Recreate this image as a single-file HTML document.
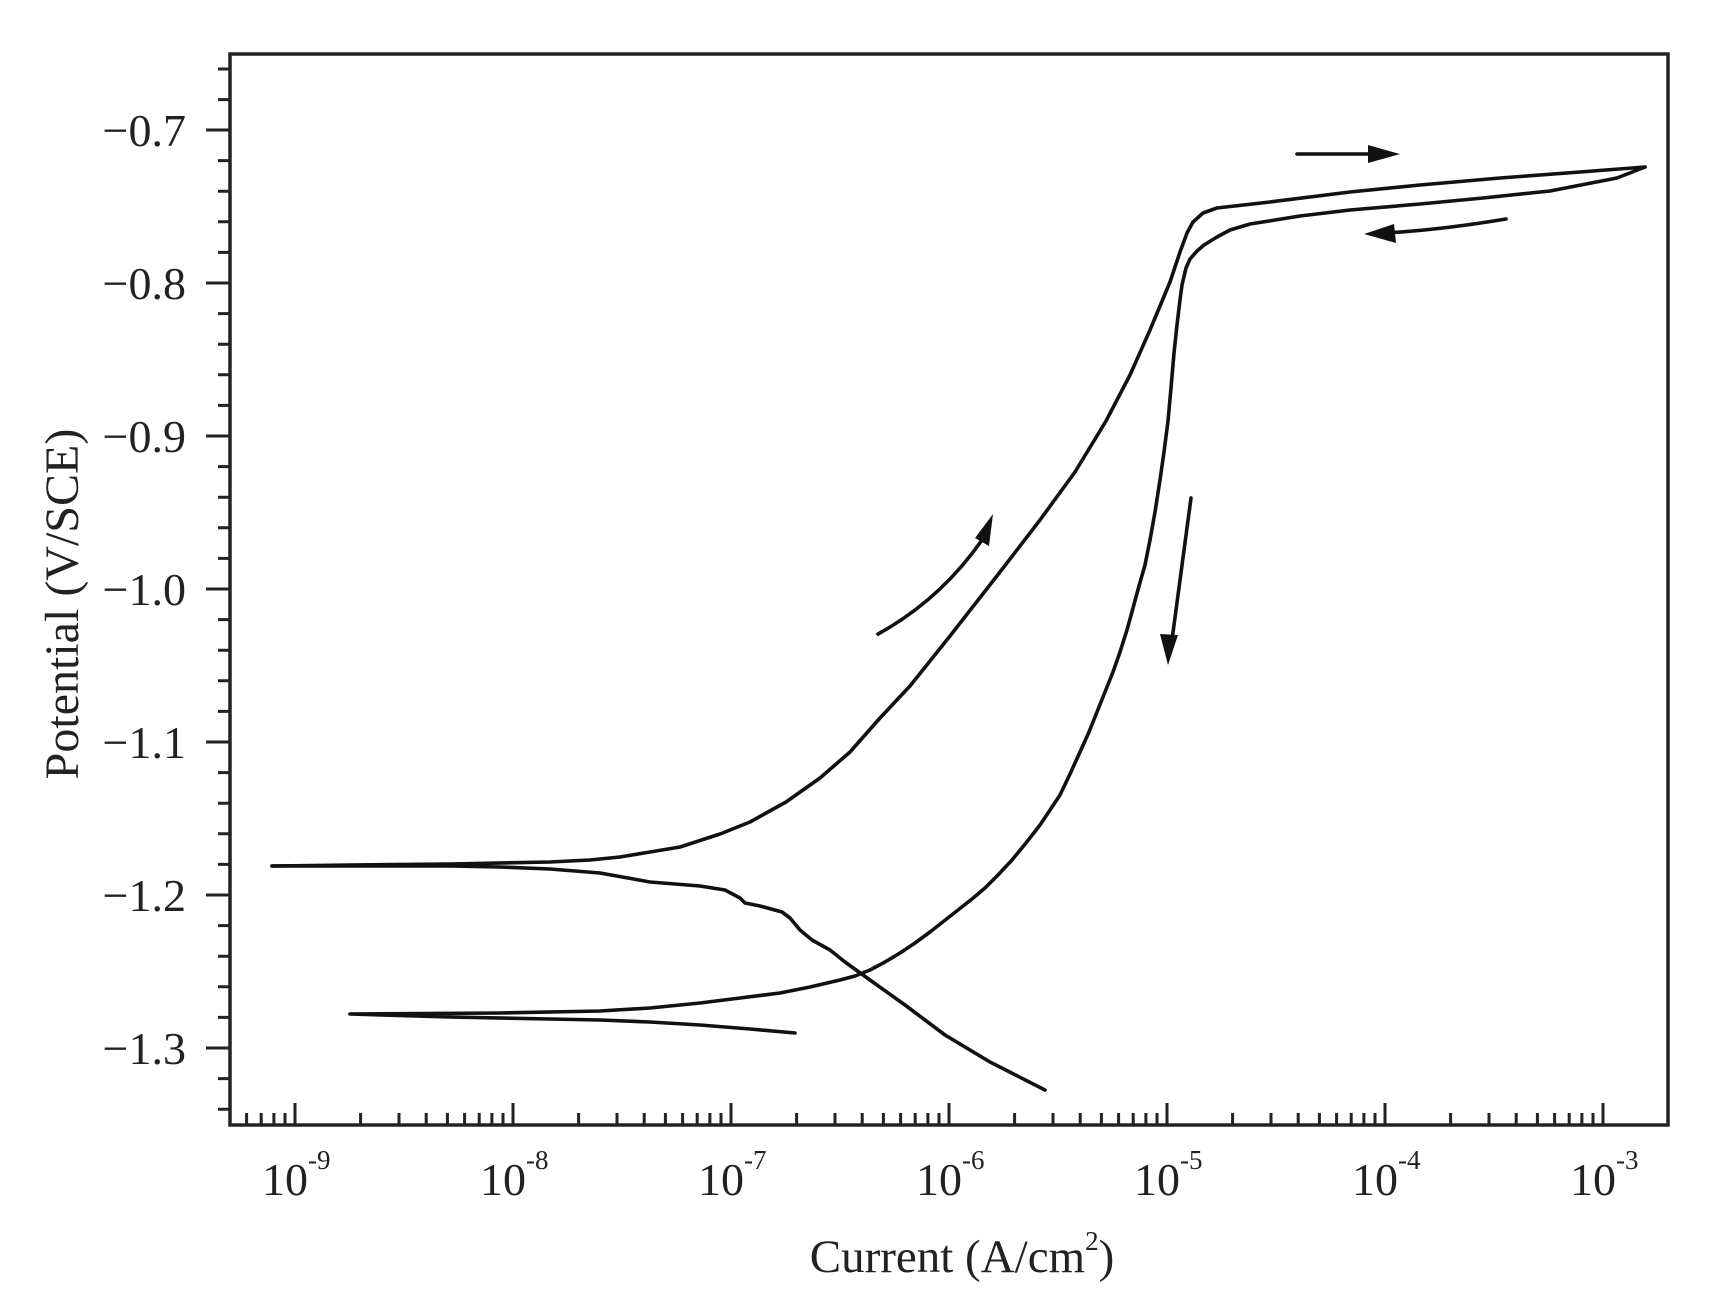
<!DOCTYPE html>
<html><head><meta charset="utf-8"><style>
html,body{margin:0;padding:0;background:#fff;}
svg{display:block;}
text{font-family:"Liberation Serif",serif;fill:#222;}
</style></head><body>
<svg width="1731" height="1314" viewBox="0 0 1731 1314" xmlns="http://www.w3.org/2000/svg">
<rect width="1731" height="1314" fill="#fff"/>
<rect x="230" y="54" width="1438" height="1071" fill="none" stroke="#222" stroke-width="3.5"/>
<g fill="none" stroke="#111" stroke-width="3.6" stroke-linejoin="round" stroke-linecap="round">
<polyline points="1045,1090 990,1062 945,1035 905,1005 870,980 845,962 830,950 812,940 800,930 790,918 782,912 760,906 745,903 740,898 725,890 700,886 650,882 600,873 550,869 500,867 450,866 350,866 272,866"/>
<polyline points="272,866 350,865 450,864 550,862 590,860 620,857 650,852 680,847 720,834 750,822 786,802 820,778 850,752 880,718 910,686 950,636 1000,572 1040,520 1075,472 1106,421 1130,375 1150,330 1170,282 1180,252 1187,233 1193,222 1203,213 1217,208 1270,202 1350,192 1420,185 1500,178 1580,172 1645,167"/>
<polyline points="1645,167 1617,178 1550,191 1483,198 1420,204 1350,210 1300,216 1250,224 1230,230 1217,237 1204,245 1197,251 1190,259 1186,268 1182,285 1180,300 1177,325 1174,353 1171,388 1168,421 1164,452 1160,480 1155,512 1150,540 1145,565 1139,586 1133,608 1127,630 1120,652 1113,672 1105,692 1097,712 1089,732 1080,752 1070,774 1060,795 1050,810 1040,825 1026,843 1012,860 998,875 985,888 972,899 958,910 944,921 930,932 915,943 900,953 885,962 870,970 855,976 840,980 810,987 780,993 740,998 700,1003 650,1008 600,1011 500,1013 350,1014 450,1017 550,1019 600,1020 650,1022 700,1025 750,1029 795,1033"/>
<line x1="1297" y1="154" x2="1375" y2="154"/>
<path d="M1506,219 Q1440,230 1385,233"/>
<path d="M878,634 Q940,600 982,540"/>
<line x1="1191" y1="498" x2="1172" y2="640"/>
</g>
<g fill="#111">
<polygon points="1400,154 1368,145 1368,163"/>
<polygon points="1364,234 1394,224 1396,243"/>
<polygon points="993,514 975,538 989,546"/>
<polygon points="1168,665 1160,634 1178,635"/>
</g>
<g stroke="#222" stroke-width="3" fill="none">
<path d="M206,130H230M206,283H230M206,436H230M206,589H230M206,742H230M206,895H230M206,1048H230"/>
<path d="M218,69H230M218,99.6H230M218,160.6H230M218,191.2H230M218,221.8H230M218,252.4H230M218,313.6H230M218,344.2H230M218,374.8H230M218,405.4H230M218,466.6H230M218,497.2H230M218,527.8H230M218,558.4H230M218,619.6H230M218,650.2H230M218,680.8H230M218,711.4H230M218,772.6H230M218,803.2H230M218,833.8H230M218,864.4H230M218,925.6H230M218,956.2H230M218,986.8H230M218,1017.4H230M218,1078.6H230M218,1109.2H230"/>
<path d="M295,1125V1103M513,1125V1103M731,1125V1103M949,1125V1103M1167,1125V1103M1385,1125V1103M1603,1125V1103"/>
<path d="M246.6,1125V1113M261.2,1125V1113M273.9,1125V1113M285,1125V1113
M360.6,1125V1113M399,1125V1113M426.2,1125V1113M447.4,1125V1113M464.6,1125V1113M479.2,1125V1113M491.9,1125V1113M503,1125V1113
M578.6,1125V1113M617,1125V1113M644.2,1125V1113M665.4,1125V1113M682.6,1125V1113M697.2,1125V1113M709.9,1125V1113M721,1125V1113
M796.6,1125V1113M835,1125V1113M862.2,1125V1113M883.4,1125V1113M900.6,1125V1113M915.2,1125V1113M927.9,1125V1113M939,1125V1113
M1014.6,1125V1113M1053,1125V1113M1080.2,1125V1113M1101.4,1125V1113M1118.6,1125V1113M1133.2,1125V1113M1145.9,1125V1113M1157,1125V1113
M1232.6,1125V1113M1271,1125V1113M1298.2,1125V1113M1319.4,1125V1113M1336.6,1125V1113M1351.2,1125V1113M1363.9,1125V1113M1375,1125V1113
M1450.6,1125V1113M1489,1125V1113M1516.2,1125V1113M1537.4,1125V1113M1554.6,1125V1113M1569.2,1125V1113M1581.9,1125V1113M1593,1125V1113"/>
</g>
<g font-size="46" text-anchor="end">
<text x="186" y="146">−0.7</text>
<text x="186" y="299">−0.8</text>
<text x="186" y="452">−0.9</text>
<text x="186" y="605">−1.0</text>
<text x="186" y="758">−1.1</text>
<text x="186" y="911">−1.2</text>
<text x="186" y="1064">−1.3</text>
</g>
<g font-size="46">
<text x="262" y="1195">10<tspan font-size="27" dy="-26">-9</tspan></text>
<text x="480" y="1195">10<tspan font-size="27" dy="-26">-8</tspan></text>
<text x="698" y="1195">10<tspan font-size="27" dy="-26">-7</tspan></text>
<text x="916" y="1195">10<tspan font-size="27" dy="-26">-6</tspan></text>
<text x="1134" y="1195">10<tspan font-size="27" dy="-26">-5</tspan></text>
<text x="1352" y="1195">10<tspan font-size="27" dy="-26">-4</tspan></text>
<text x="1570" y="1195">10<tspan font-size="27" dy="-26">-3</tspan></text>
</g>
<text x="962" y="1272" font-size="47" text-anchor="middle">Current (A/cm<tspan font-size="27" dy="-22">2</tspan><tspan dy="22">)</tspan></text>
<text transform="translate(78,604) rotate(-90)" font-size="48" text-anchor="middle">Potential (V/SCE)</text>
</svg>
</body></html>
